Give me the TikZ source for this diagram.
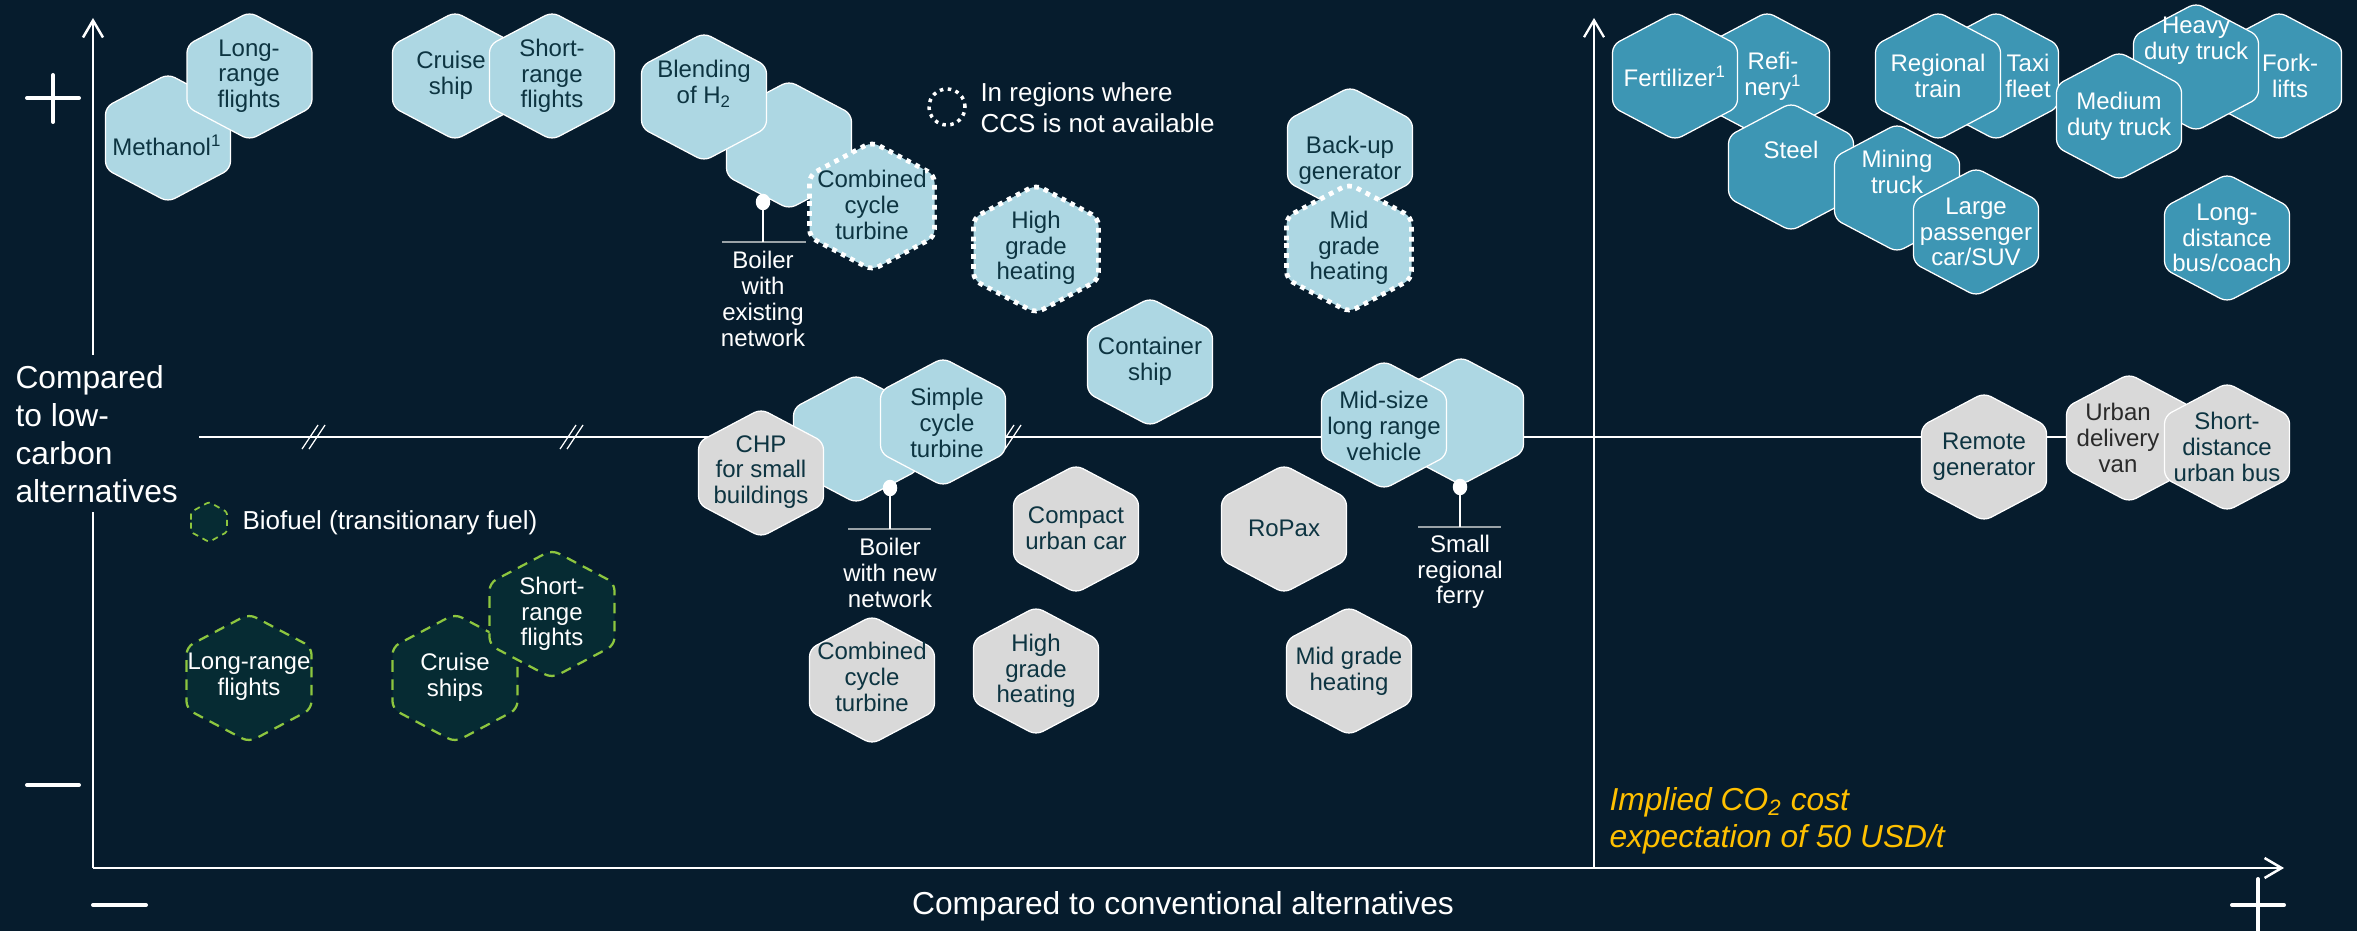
\documentclass[tikz,border=0pt]{standalone}
\usepackage{fontspec}
\setmainfont{Liberation Sans}
\usetikzlibrary{arrows.meta}
\definecolor{bg}{HTML}{061C2D}
\definecolor{lb}{HTML}{ADD7E3}
\definecolor{mb}{HTML}{3D96B4}
\definecolor{gr}{HTML}{D9D9D9}
\definecolor{bio}{HTML}{062B33}
\definecolor{biod}{HTML}{8DC63F}
\definecolor{htc}{HTML}{0D3441}
\definecolor{vantxt}{HTML}{2A2A2A}
\definecolor{amber}{HTML}{FFC000}
\definecolor{pinc}{HTML}{9AA3A8}
\newcommand{\hx}[3]{\path[#1,shift={(#2,#3)}] (-62.5,0) -- (-62.5,-31) -- (0,-64) -- (62.5,-31) -- (62.5,31) -- (0,64) -- (-62.5,31) -- cycle;}
\begin{document}
\begin{tikzpicture}[x=0.4pt,y=-0.4pt,
  hlb/.style={fill=lb,draw=white,line width=0.5pt,rounded corners=3pt},
  hmb/.style={fill=mb,draw=white,line width=0.5pt,rounded corners=3pt},
  hgr/.style={fill=gr,draw=white,line width=0.5pt,rounded corners=3pt},
  hdot/.style={fill=lb,draw=white,line width=1.9pt,dash pattern=on 1.9pt off 2.1pt,rounded corners=3pt},
  hbio/.style={fill=bio,draw=biod,line width=0.9pt,dash pattern=on 4.2pt off 3pt,rounded corners=3pt},
  ht/.style={text=htc,align=center,inner sep=0pt,font=\fontsize{9.6}{10.3}\selectfont},
  htw/.style={ht,text=white},
  leg/.style={text=white,align=left,inner sep=0pt,font=\fontsize{10.4}{12.4}\selectfont},
  axl/.style={text=white,inner sep=0pt,font=\fontsize{12.7}{15.2}\selectfont},
  axisln/.style={draw=white,line width=1pt},
  divl/.style={draw=white,line width=0.9pt},
  midl/.style={draw=white,line width=0.5pt},
  sign/.style={draw=white,line width=1.6pt,line cap=round},
  pinbase/.style={draw=pinc,line width=0.8pt},
  stem/.style={draw=white,line width=0.6pt},
  tip/.style={-{Straight Barb[length=6.8pt,width=8pt]}}
  ]
\fill[bg] (0,0) rectangle (2357,931);
\useasboundingbox (0,0) rectangle (2357,931);

% mid line with breaks
\coordinate (m0) at (199,437);
\coordinate (m1) at (2070,437);
\draw[midl] (m0) -- (m1);
\foreach \bx in {314,572,1010}{
  \draw[midl] (\bx-12,449) -- (\bx+4,425);
  \draw[midl] (\bx-5,449) -- (\bx+11,425);
}

% axes
\coordinate (o) at (93,868);
\coordinate (ytop) at (93,18);
\coordinate (yb1) at (93,355);
\coordinate (yb2) at (93,512);
\coordinate (xend) at (2284,868);
\coordinate (dtop) at (1594,18);
\coordinate (dbot) at (1594,868);
\draw[axisln,tip] (yb1) -- (ytop);
\draw[axisln] (o) -- (yb2);
\draw[axisln,tip] (o) -- (xend);
\draw[divl,tip] (dbot) -- (dtop);

% signs
\draw[sign] (27,98) -- (79,98);
\draw[sign] (53,75) -- (53,122);
\draw[sign] (27,785) -- (79,785);
\draw[sign] (93,905) -- (146,905);
\draw[sign] (2232,905) -- (2284,905);
\draw[sign] (2258,879) -- (2258,931);

% axis labels
\node[axl,align=left,anchor=west] (ylab) at (15,434) {Compared\\to low-\\carbon\\alternatives};
\node[axl] (xlab) at (1183,906) {Compared to conventional alternatives};
\node[inner sep=0pt,text=amber,align=left,anchor=west,font=\fontsize{12.7}{14.8}\selectfont\itshape] (co2) at (1609,821) {Implied CO\textsubscript{2} cost\\expectation of 50 USD/t};

% legends
\draw[white,line width=1.4pt,dash pattern=on 1.4pt off 1.8pt] (947,107) circle[radius=7.2pt];
\node[leg,anchor=west] (ccs) at (980,108) {In regions where\\CCS is not available};
\path[hbio,line width=0.7pt,dash pattern=on 2.4pt off 2pt,rounded corners=1pt] (191,522) -- (191,512) -- (209,502) -- (227,512) -- (227,532) -- (209,542) -- (191,532) -- cycle;
\node[leg,anchor=west] (biol) at (242,523) {Biofuel (transitionary fuel)};

% ---------- top-left light blue
\hx{hlb}{168}{138}
\node[ht] (meth) at (167,145) {Methanol\textsuperscript{1}};
\hx{hlb}{249.5}{76}
\node[ht] (lrf) at (249,76) {Long-\\range\\flights};
\hx{hlb}{455}{76}
\node[ht] (cru) at (451,75) {Cruise\\ship};
\hx{hlb}{552}{76}
\node[ht] (srf) at (552,76) {Short-\\range\\flights};

% boiler with existing network
\coordinate (bex) at (789,145);
\hx{hlb}{789}{145}
\hx{hlb}{704}{97}
\node[ht] (blend) at (704,84) {Blending\\of H\textsubscript{2}};
\hx{hdot}{872}{206}
\node[ht] (cct1) at (872,205) {Combined\\cycle\\turbine};
\coordinate (p1) at (763,202);
\coordinate (p1b) at (763,242);
\coordinate (p1l) at (722,242);
\coordinate (p1r) at (806,242);
\draw[pinbase] (p1l) -- (p1r);
\draw[stem] (p1) -- (p1b);
\fill[white] (p1) ellipse[x radius=2.9pt,y radius=3.3pt];
\node[htw] (boil1) at (763,299) {Boiler\\with\\existing\\network};

\hx{hdot}{1036}{249}
\node[ht] (hgh1) at (1036,248) {High\\grade\\heating};
\hx{hlb}{1150}{362}
\node[ht] (cont) at (1150,361) {Container\\ship};
\hx{hlb}{1350}{151}
\node[ht] (bkup) at (1350,160) {Back-up\\generator};
\hx{hdot}{1349}{248}
\node[ht] (mgh1) at (1349,248) {Mid\\grade\\heating};

% ---------- middle
\coordinate (bnew) at (856,439);
\hx{hlb}{856}{439}
\hx{hgr}{761}{473}
\node[ht] (chp) at (761,472) {CHP\\for small\\buildings};
\hx{hlb}{943}{422}
\node[ht] (sct) at (947,423) {Simple\\cycle\\turbine};
\coordinate (p2) at (890,488);
\coordinate (p2b) at (890,529);
\coordinate (p2l) at (848,529);
\coordinate (p2r) at (931,529);
\draw[pinbase] (p2l) -- (p2r);
\draw[stem] (p2) -- (p2b);
\fill[white] (p2) ellipse[x radius=2.9pt,y radius=3.3pt];
\node[htw] (boil2) at (890,573) {Boiler\\with new\\network};

\hx{hgr}{1076}{529}
\node[ht] (cuc) at (1076,528) {Compact\\urban car};
\hx{hgr}{1284}{529}
\node[ht] (ropax) at (1284,528) {RoPax};

\coordinate (fer) at (1461,421);
\hx{hlb}{1461}{421}
\hx{hlb}{1384}{425}
\node[ht] (msv) at (1384,426) {Mid-size\\long range\\vehicle};
\coordinate (p3) at (1460,487);
\coordinate (p3b) at (1460,527);
\coordinate (p3l) at (1418,527);
\coordinate (p3r) at (1501,527);
\draw[pinbase] (p3l) -- (p3r);
\draw[stem] (p3) -- (p3b);
\fill[white] (p3) ellipse[x radius=2.9pt,y radius=3.3pt];
\node[htw] (ferry) at (1460,572) {Small\\regional\\ferry};

\hx{hgr}{872}{680}
\node[ht] (cct2) at (872,677) {Combined\\cycle\\turbine};
\hx{hgr}{1036}{671}
\node[ht] (hgh2) at (1036,671) {High\\grade\\heating};
\hx{hgr}{1349}{671}
\node[ht] (mgh2) at (1349,671) {Mid grade\\heating};

% ---------- biofuel
\hx{hbio}{249}{678}
\node[htw] (blrf) at (249,677) {Long-range\\flights};
\hx{hbio}{455}{678}
\node[htw] (bcru) at (455,677) {Cruise\\ships};
\hx{hbio}{552}{614}
\node[htw] (bsrf) at (552,614) {Short-\\range\\flights};

% ---------- right gray
\hx{hgr}{1984}{457}
\node[ht] (remg) at (1984,457) {Remote\\generator};
\hx{hgr}{2129}{438}
\node[ht,text=vantxt] (udv) at (2118,438) {Urban\\delivery\\van};
\hx{hgr}{2227}{447}
\node[ht] (sdub) at (2227,447) {Short-\\distance\\urban bus};

% ---------- right top medium blue
\hx{hmb}{1767}{76}
\node[htw] (refi) at (1773,76) {Refi-\\nery\textsuperscript{1}};
\hx{hmb}{1675}{76}
\node[htw] (fert) at (1675,76) {Fertilizer\textsuperscript{1}};
\hx{hmb}{1791}{167}
\node[htw] (steel) at (1791,150) {Steel};
\hx{hmb}{1996}{76}
\node[htw] (taxi) at (2028,76) {Taxi\\fleet};
\hx{hmb}{1938}{76}
\node[htw] (rtr) at (1938,76) {Regional\\train};
\hx{hmb}{1897}{188}
\node[htw] (mine) at (1897,172) {Mining\\truck};
\hx{hmb}{1976}{232}
\node[htw] (lpc) at (1976,232) {Large\\passenger\\car/SUV};
\hx{hmb}{2279}{76}
\node[htw] (fork) at (2290,76) {Fork-\\lifts};
\hx{hmb}{2196}{67}
\node[htw] (hdt) at (2196,41) {Heavy\\duty truck};
\hx{hmb}{2119}{116}
\node[htw] (mdt) at (2119,116) {Medium\\duty truck};
\hx{hmb}{2227}{238}
\node[htw] (ldb) at (2227,238) {Long-\\distance\\bus/coach};
\end{tikzpicture}
\end{document}
